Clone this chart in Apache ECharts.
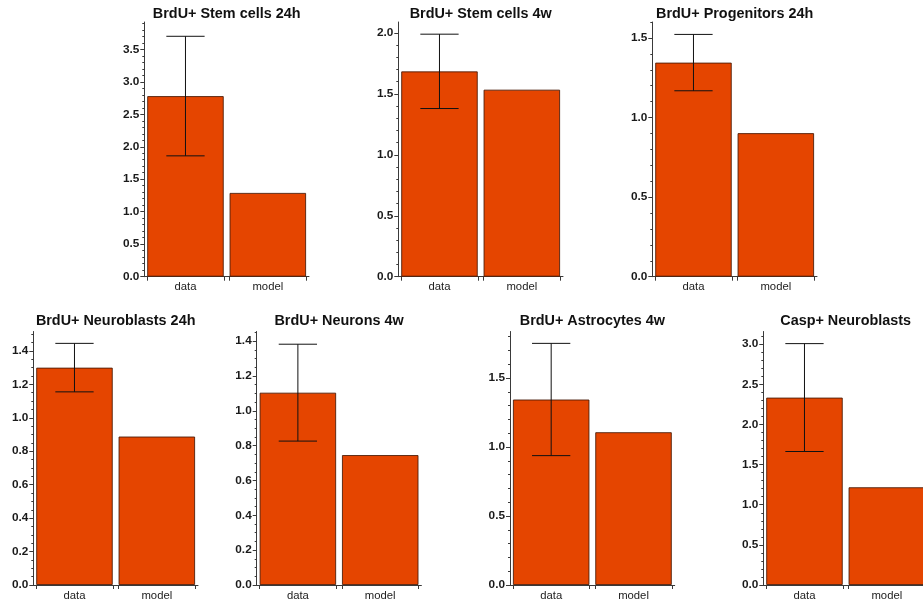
<!DOCTYPE html>
<html>
<head>
<meta charset="utf-8">
<script src="https://cdn.jsdelivr.net/npm/echarts@6/dist/echarts.min.js"></script>
<style>
  html, body { margin: 0; padding: 0; background: #fff; }
  #chart { width: 923px; height: 602px; }
</style>
</head>
<body>
<div id="chart"></div>
<script>
// Per-panel data: measured mean, its error, and the model prediction
const panelTitles = [
  'BrdU+ Stem cells 24h', 'BrdU+ Stem cells 4w', 'BrdU+ Progenitors 24h',
  'BrdU+ Neuroblasts 24h', 'BrdU+ Neurons 4w', 'BrdU+ Astrocytes 4w', 'Casp+ Neuroblasts'
];
const categories = ['data', 'model'];
const dataValues  = [2.78, 1.685, 1.345, 1.30, 1.104, 1.345, 2.335];
const dataErrors  = [0.92, 0.305, 0.177, 0.145, 0.278, 0.407, 0.672];
const modelValues = [1.29, 1.535, 0.902, 0.888, 0.746, 1.108, 1.218];
// Axis ranges and tick spacing
const yMaxValues  = [3.92, 2.09, 1.6, 1.516, 1.455, 1.838, 3.158];
const yMajorSteps = [0.5, 0.5, 0.5, 0.2, 0.2, 0.5, 0.5];
const yMinorSteps = [0.1, 0.1, 0.1, 0.05, 0.05, 0.1, 0.1];

// Panel placement (plot rectangles in px)
const PLOT_W = 164.7;
const ROW1 = { top: 22, height: 254.7 };
const ROW2 = { top: 331.5, height: 253.5 };
const panelLefts = [144.3, 398.3, 652.3, 33.3, 256.7, 510, 763.3];
const BAR_FRACTION = 0.93;

const BAR_COLOR = '#E54500';
const BAR_EDGE = 'rgba(70,25,5,0.85)';
const AXIS_COLOR = '#3a3a3a';
const FONT = '"Liberation Sans", Arial, sans-serif';

function ticksUpTo(max, step) {
  const out = [];
  const n = Math.floor(max / step + 1e-9);
  for (let i = 0; i <= n; i++) out.push(+(i * step).toFixed(4));
  return out;
}

// bar edges in category-axis units (category i spans [i, i+1])
const half = BAR_FRACTION / 2;
const edgeTicks = [0.5 - half, 0.5 + half, 1.5 - half, 1.5 + half];

const grids = [], xAxes = [], yAxes = [], series = [], graphics = [];

panelTitles.forEach((title, i) => {
  const row = i < 3 ? ROW1 : ROW2;
  const left = panelLefts[i];
  grids.push({ left: left, top: row.top, width: PLOT_W, height: row.height,
               containLabel: false, outerBoundsMode: 'none' });

  // category axis carrying the bars and labels
  xAxes.push({
    type: 'category', gridIndex: i, data: categories,
    axisLine: { show: true, lineStyle: { color: AXIS_COLOR, width: 1 } },
    axisTick: { show: false },
    axisLabel: { color: '#222', fontFamily: FONT, fontSize: 11.3, margin: 5 },
    splitLine: { show: false }
  });
  // value axis sharing the same span, used only for ticks at bar edges
  xAxes.push({
    type: 'value', gridIndex: i, min: 0, max: 2, position: 'bottom',
    axisLine: { show: false },
    axisLabel: { show: false },
    splitLine: { show: false },
    axisTick: { show: true, length: 4, customValues: edgeTicks,
                lineStyle: { color: AXIS_COLOR, width: 1 } }
  });

  const majors = ticksUpTo(yMaxValues[i], yMajorSteps[i]);
  const minors = ticksUpTo(yMaxValues[i], yMinorSteps[i]);
  yAxes.push({
    type: 'value', gridIndex: i, min: 0, max: yMaxValues[i],
    axisLine: { show: true, onZero: false, lineStyle: { color: AXIS_COLOR, width: 1 } },
    axisTick: { show: true, length: 4, customValues: majors,
                lineStyle: { color: AXIS_COLOR, width: 1 } },
    axisLabel: { customValues: majors, color: '#1a1a1a', fontFamily: FONT,
                 fontWeight: 'bold', fontSize: 11.8, margin: 5,
                 formatter: v => v.toFixed(1) },
    splitLine: { show: false }
  });
  // minor ticks
  yAxes.push({
    type: 'value', gridIndex: i, min: 0, max: yMaxValues[i], position: 'left',
    axisLine: { show: false },
    axisLabel: { show: false },
    splitLine: { show: false },
    axisTick: { show: true, length: 2, customValues: minors,
                lineStyle: { color: AXIS_COLOR, width: 1 } }
  });

  const catAxisIdx = i * 2;
  const yIdx = i * 2;

  series.push({
    type: 'bar', xAxisIndex: catAxisIdx, yAxisIndex: yIdx,
    data: [dataValues[i], modelValues[i]],
    barWidth: (BAR_FRACTION * 100) + '%',
    itemStyle: { color: BAR_COLOR, borderColor: BAR_EDGE, borderWidth: 1 },
    silent: true, animation: false
  });

  // error bar on the data column
  series.push({
    type: 'custom', xAxisIndex: catAxisIdx, yAxisIndex: yIdx,
    data: [[0, dataValues[i] - dataErrors[i], dataValues[i] + dataErrors[i]]],
    z: 5, silent: true, animation: false,
    renderItem: (params, api) => {
      const x = api.value(0);
      const lo = api.coord([x, api.value(1)]);
      const hi = api.coord([x, api.value(2)]);
      const capHalf = api.size([1, 0])[0] * BAR_FRACTION * 0.25;
      const style = { stroke: '#111', lineWidth: 1 };
      return {
        type: 'group',
        children: [
          { type: 'line', shape: { x1: hi[0], y1: hi[1], x2: lo[0], y2: lo[1] }, style },
          { type: 'line', shape: { x1: hi[0] - capHalf, y1: hi[1], x2: hi[0] + capHalf, y2: hi[1] }, style },
          { type: 'line', shape: { x1: lo[0] - capHalf, y1: lo[1], x2: lo[0] + capHalf, y2: lo[1] }, style }
        ]
      };
    }
  });

  graphics.push({
    type: 'text',
    x: left + PLOT_W / 2, y: i < 3 ? 14 : 321,
    style: { text: title, fill: '#111', font: 'bold 14.4px ' + FONT,
             textAlign: 'center', textVerticalAlign: 'middle' },
    silent: true
  });
});

const chart = echarts.init(document.getElementById('chart'), null, { renderer: 'canvas' });
chart.setOption({
  animation: false,
  backgroundColor: '#fff',
  grid: grids,
  xAxis: xAxes,
  yAxis: yAxes,
  series: series,
  graphic: { elements: graphics }
});
</script>
</body>
</html>
